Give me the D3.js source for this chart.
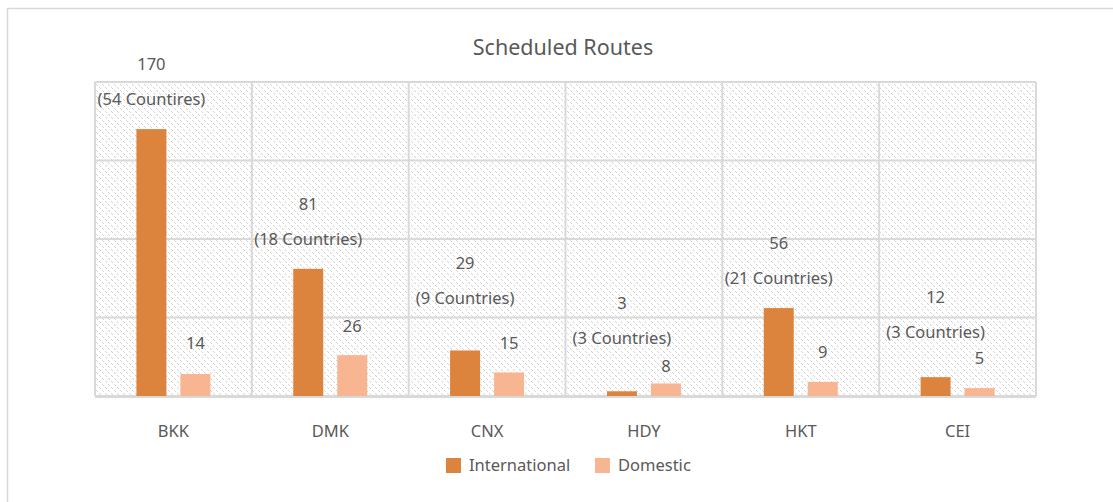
<!DOCTYPE html>
<html>
<head>
<meta charset="utf-8">
<script src="https://cdn.jsdelivr.net/npm/d3@7"></script>
<style>
  body { margin: 0; background: #fff; }
  svg text { font-family: "Noto Sans", "Open Sans", sans-serif; fill: #595959; }
</style>
</head>
<body>
<svg id="chart" width="1113" height="502"></svg>
<script>
const airports = ['BKK', 'DMK', 'CNX', 'HDY', 'HKT', 'CEI'];
const international = [170, 81, 29, 3, 56, 12];
const domestic = [14, 26, 15, 8, 9, 5];
const countryNotes = ['(54 Countires)', '(18 Countries)', '(9 Countries)', '(3 Countries)', '(21 Countries)', '(3 Countries)'];
const yTicks = [0, 50, 100, 150, 200];
const seriesNames = ['International', 'Domestic'];
const seriesColors = ['#dc843e', '#f8b591'];

// how far above the bar top each label sits (labels were dragged by hand in the original)
const intlLift = [30, 30, 52, 53, 30, 45];
const domLift = [31, 29, 29, 17, 30, 30];

const plot = { left: 95, right: 1036, top: 82, bottom: 396 };

const svg = d3.select('#chart');

// outer frame
svg.append('path')
   .attr('d', 'M7.5,502 V8.5 H1113')
   .attr('fill', 'none')
   .attr('stroke', '#d9d9d9')
   .attr('stroke-width', 1.5);

// hatch
const defs = svg.append('defs');
const pat = defs.append('pattern')
   .attr('id', 'hatch')
   .attr('patternUnits', 'userSpaceOnUse')
   .attr('width', 6)
   .attr('height', 6);
[[0, 0], [1, 1], [3, 3], [4, 4]].forEach(p => {
  pat.append('rect')
     .attr('x', p[0]).attr('y', p[1])
     .attr('width', 1).attr('height', 1)
     .attr('fill', '#d4d4d4');
});

const x0 = d3.scaleBand()
   .domain(airports)
   .range([plot.left, plot.right]);

const x1 = d3.scaleBand()
   .domain(seriesNames)
   .range([0, 74])
   .paddingInner(14 / 44);

const yScale = d3.scaleLinear()
   .domain([0, 200])
   .range([plot.bottom, plot.top]);

svg.append('rect')
   .attr('x', plot.left)
   .attr('y', plot.top)
   .attr('width', plot.right - plot.left)
   .attr('height', plot.bottom - plot.top)
   .attr('fill', 'url(#hatch)');

// gridlines
svg.append('g')
   .selectAll('line')
   .data(yTicks)
   .enter()
   .append('line')
   .attr('x1', plot.left)
   .attr('x2', plot.right)
   .attr('y1', d => yScale(d))
   .attr('y2', d => yScale(d))
   .attr('stroke', '#d9d9d9')
   .attr('stroke-width', 2);

const edges = airports.map(a => x0(a)).concat([plot.right]);
svg.append('g')
   .selectAll('line')
   .data(edges)
   .enter()
   .append('line')
   .attr('x1', d => d)
   .attr('x2', d => d)
   .attr('y1', plot.top)
   .attr('y2', plot.bottom)
   .attr('stroke', '#d9d9d9')
   .attr('stroke-width', 2);

const offset = (x0.bandwidth() - 74) / 2;

const groups = svg.append('g')
   .selectAll('g')
   .data(airports)
   .enter()
   .append('g')
   .attr('transform', a => `translate(${x0(a) + offset},0)`);

groups.append('rect')
   .attr('x', x1('International'))
   .attr('width', x1.bandwidth())
   .attr('y', (a, i) => yScale(international[i]))
   .attr('height', (a, i) => yScale(0) - yScale(international[i]))
   .attr('fill', seriesColors[0]);

groups.append('rect')
   .attr('x', x1('Domestic'))
   .attr('width', x1.bandwidth())
   .attr('y', (a, i) => yScale(domestic[i]))
   .attr('height', (a, i) => yScale(0) - yScale(domestic[i]))
   .attr('fill', seriesColors[1]);

// labels
groups.append('text')
   .attr('x', x1('International') + x1.bandwidth() / 2)
   .attr('y', (a, i) => yScale(international[i]) - intlLift[i] - 35 + 6)
   .attr('text-anchor', 'middle')
   .attr('font-size', 16.5)
   .text((a, i) => international[i]);

groups.append('text')
   .attr('x', x1('International') + x1.bandwidth() / 2)
   .attr('y', (a, i) => yScale(international[i]) - intlLift[i] + 6)
   .attr('text-anchor', 'middle')
   .attr('font-size', 16.5)
   .text((a, i) => countryNotes[i]);

groups.append('text')
   .attr('x', x1('Domestic') + x1.bandwidth() / 2)
   .attr('y', (a, i) => yScale(domestic[i]) - domLift[i] + 6)
   .attr('text-anchor', 'middle')
   .attr('font-size', 16.5)
   .text((a, i) => domestic[i]);

// x axis
svg.append('line')
   .attr('x1', plot.left)
   .attr('x2', plot.right)
   .attr('y1', plot.bottom + 1)
   .attr('y2', plot.bottom + 1)
   .attr('stroke', '#d9d9d9')
   .attr('stroke-width', 2);

svg.append('g')
   .selectAll('text')
   .data(airports)
   .enter()
   .append('text')
   .attr('x', a => x0(a) + x0.bandwidth() / 2)
   .attr('y', 437)
   .attr('text-anchor', 'middle')
   .attr('font-size', 16.5)
   .text(a => a);

svg.append('text')
   .attr('x', 563)
   .attr('y', 55)
   .attr('text-anchor', 'middle')
   .attr('font-size', 21.5)
   .text('Scheduled Routes');

// legend
const legendX = [446, 595];
const legend = svg.append('g')
   .selectAll('g')
   .data(seriesNames)
   .enter()
   .append('g')
   .attr('transform', (d, i) => `translate(${legendX[i]},458)`);

legend.append('rect')
   .attr('width', 15)
   .attr('height', 15)
   .attr('fill', (d, i) => seriesColors[i]);

legend.append('text')
   .attr('x', 23)
   .attr('y', 13)
   .attr('font-size', 16.5)
   .text(d => d);
</script>
</body>
</html>
